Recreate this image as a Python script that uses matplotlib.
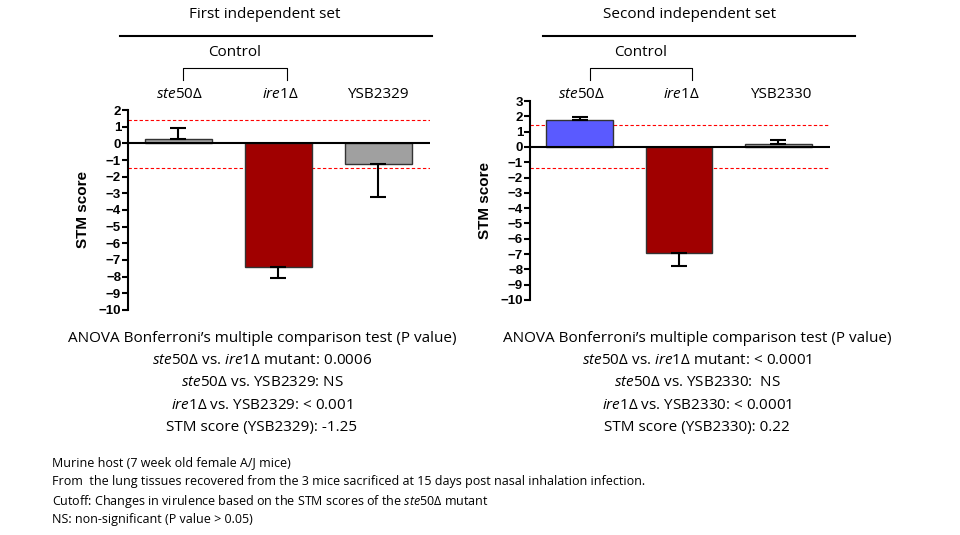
import matplotlib
matplotlib.use('Agg')
import matplotlib.pyplot as plt

plt.rcParams['font.family'] = ['Open Sans', 'DejaVu Sans']
plt.rcParams['mathtext.fontset'] = 'custom'
plt.rcParams['mathtext.rm'] = 'Open Sans'
plt.rcParams['mathtext.it'] = 'Open Sans:italic'

# data
strains_1 = ['ste50Δ', 'ire1Δ', 'YSB2329']
scores_1 = [0.28, -7.4, -1.25]
err_1 = [0.67, 0.65, 1.95]
cutoff_1 = [1.4, -1.5]

strains_2 = ['ste50Δ', 'ire1Δ', 'YSB2330']
scores_2 = [1.75, -6.9, 0.22]
err_2 = [0.2, 0.9, 0.23]
cutoff_2 = [1.45, -1.35]

colors_1 = ['#a0a0a0', '#a00000', '#a0a0a0']
colors_2 = ['#5a5aff', '#a00000', '#a0a0a0']

stats_1 = ['ANOVA Bonferroni’s multiple comparison test (P value)',
           r'$\it{ste50Δ}$ vs. $\it{ire1Δ}$ mutant: 0.0006',
           r'$\it{ste50Δ}$ vs. YSB2329: NS',
           r'$\it{ire1Δ}$ vs. YSB2329: < 0.001',
           'STM score (YSB2329): -1.25']
stats_2 = ['ANOVA Bonferroni’s multiple comparison test (P value)',
           r'$\it{ste50Δ}$ vs. $\it{ire1Δ}$ mutant: < 0.0001',
           r'$\it{ste50Δ}$ vs. YSB2330:  NS',
           r'$\it{ire1Δ}$ vs. YSB2330: < 0.0001',
           'STM score (YSB2330): 0.22']
notes = ['Murine host (7 week old female A/J mice)',
         'From  the lung tissues recovered from the 3 mice sacrificed at 15 days post nasal inhalation infection.',
         r'Cutoff: Changes in virulence based on the STM scores of the $\it{ste50Δ}$ mutant',
         'NS: non-significant (P value > 0.05)']

W, H = 960, 535
fig = plt.figure(figsize=(9.6, 5.35), dpi=100)


def bar_panel(rect, scores, errs, colors, cutoff, ymax):
    l, t, r, b = rect
    ax = fig.add_axes([l / W, 1 - b / H, (r - l) / W, (b - t) / H])
    x = [0.5, 1.5, 2.5]
    ax.bar(x, scores, width=0.67, color=colors, edgecolor='#333333', linewidth=1, zorder=2)
    for xi, s, e in zip(x, scores, errs):
        sign = 1 if s >= 0 else -1
        ax.errorbar(xi, s, yerr=[[e if sign < 0 else 0], [e if sign > 0 else 0]],
                    color='black', capsize=6, elinewidth=1.5, capthick=1.5, zorder=3)
    ax.axhline(0, color='black', lw=1.5, zorder=4)
    for c in cutoff:
        ax.axhline(c, color='red', lw=0.8, ls='--', dashes=(3, 2), zorder=1)
    ax.set_xlim(0, 3.02)
    ax.set_ylim(-10, ymax)
    ax.set_yticks(range(-10, ymax + 1))
    for s in ['top', 'right', 'bottom']:
        ax.spines[s].set_visible(False)
    ax.spines['left'].set_linewidth(1.5)
    ax.set_xticks([])
    ax.tick_params(axis='y', width=1.5, length=4, pad=1)
    for lab in ax.get_yticklabels():
        lab.set_family('Liberation Sans')
        lab.set_fontweight('bold')
        lab.set_fontsize(9.5)
    ax.set_ylabel('STM score', family='Liberation Sans', fontweight='bold', fontsize=11, labelpad=6)
    return ax


bar_panel((128, 110, 430, 310), scores_1, err_1, colors_1, cutoff_1, 2)
bar_panel((530, 101, 830, 300), scores_2, err_2, colors_2, cutoff_2, 3)

ov = fig.add_axes([0, 0, 1, 1], zorder=-1)
ov.set_xlim(0, W)
ov.set_ylim(H, 0)
ov.axis('off')


def header(cx, title, x0, x1, b0, b1, xs, strains):
    ov.text(cx, 15, title, ha='center', va='center', fontsize=11)
    ov.plot([x0, x1], [36, 36], color='black', lw=1.5)
    ov.text((b0 + b1) / 2, 52, 'Control', ha='center', va='center', fontsize=11)
    ov.plot([b0, b0, b1, b1], [80, 68, 68, 80], color='black', lw=0.8)
    for xx, s in zip(xs, strains):
        lab = s if s.startswith('YSB') else r'$\it{%s}$' % s
        ov.text(xx, 95, lab, ha='center', va='center', fontsize=11)


header(265, 'First independent set', 120, 432, 183, 287, [180, 280, 378], strains_1)
header(690, 'Second independent set', 543, 855, 590, 692, [582, 681, 781], strains_2)

for i, (a, b) in enumerate(zip(stats_1, stats_2)):
    y = 338 + i * 22.5
    ov.text(262, y, a, ha='center', va='center', fontsize=11)
    ov.text(697, y, b, ha='center', va='center', fontsize=11)

for i, n in enumerate(notes):
    ov.text(52, 463 + i * 19, n, ha='left', va='center', fontsize=9)

fig.savefig('out.png', dpi=100)
